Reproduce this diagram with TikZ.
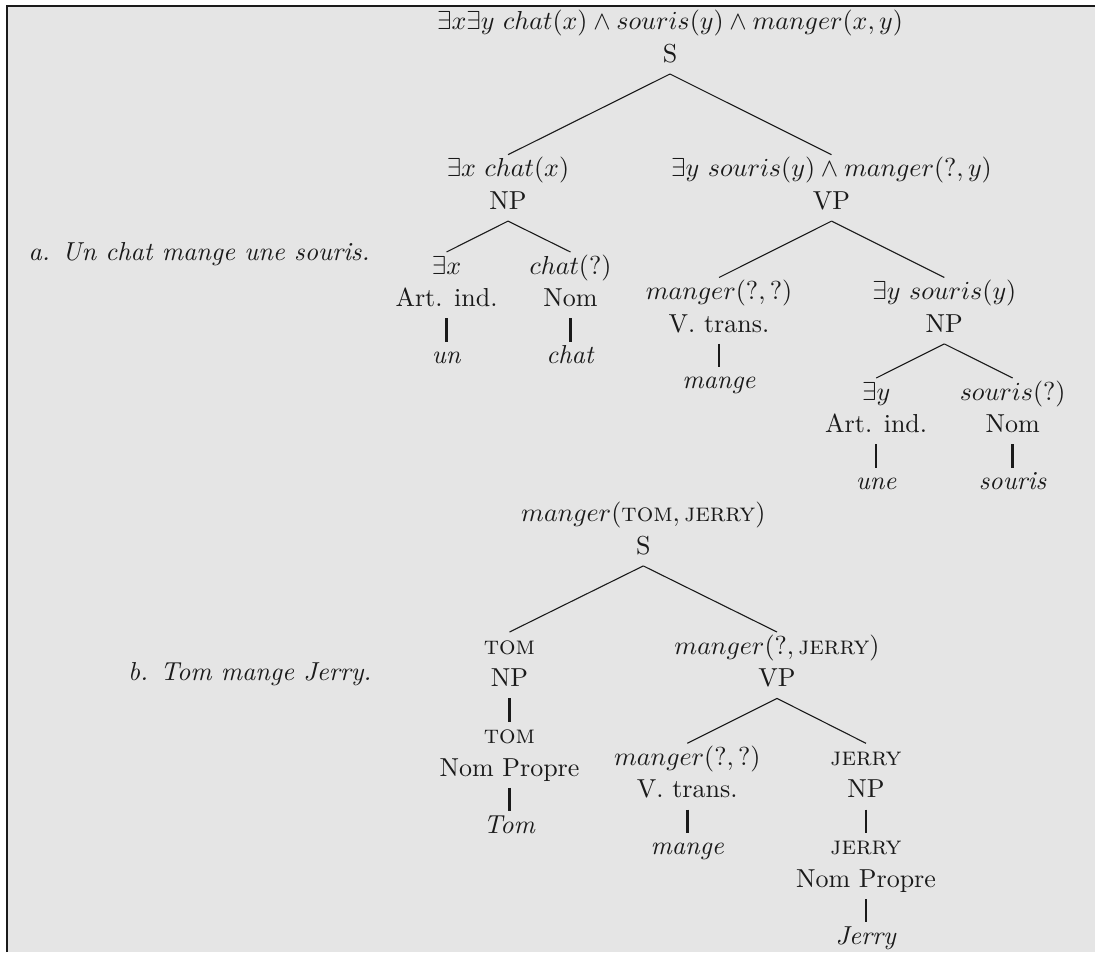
\documentclass[tikz,border=0pt]{standalone}
\definecolor{bggray}{HTML}{E5E5E5}
\definecolor{ink}{HTML}{1A1A1A}
\newcommand{\tS}{\rule{0pt}{8.46pt}}
\newcommand{\bS}{\rule[-4.54pt]{0pt}{4.54pt}}
\tikzset{
  tn/.style={inner sep=0pt, outer sep=0pt, align=center, anchor=north, text=ink,
             font=\fontsize{10}{12.54}\selectfont},
  lbl/.style={inner sep=0pt, anchor=base west, text=ink, font=\fontsize{10}{12.54}\selectfont\itshape},
  edge/.style={draw=ink, line width=0.42pt},
  bar/.style={draw=ink, line width=0.95pt},
}
\begin{document}
\begin{tikzpicture}[x=0.3846pt, y=-0.3846pt]
\useasboundingbox (0,0) rectangle (1095,952);
\fill[bggray] (7,6) rectangle (1095,952);
\draw[ink, line width=0.5pt] (7,952) -- (7,6) -- (1095,6);

% ---------- tree a ----------
\node[lbl] (labA) at (28,260) {a. Un chat mange une souris.};

\node[tn] (rootA) at (670,7.6) {\tS$\exists x\exists y\ chat(x)\wedge souris(y)\wedge manger(x,y)$\\S\bS};
\node[tn] (npA)   at (508,154.7) {\tS$\exists x\ chat(x)$\\NP\bS};
\node[tn] (vpA)   at (831.5,154.7) {\tS$\exists y\ souris(y)\wedge manger(?,y)$\\VP\bS};
\node[tn] (artA)  at (446.5,252) {\tS$\exists x$\\Art. ind.\bS};
\node[tn] (nomA)  at (570.5,252) {\tS$chat(?)$\\Nom\bS};
\node[tn] (unA)   at (446.5,341.5) {\tS\textit{un}};
\node[tn] (chatA) at (570.5,341.5) {\tS\textit{chat}};
\node[tn] (vtA)   at (719,277.5) {\tS$manger(?,?)$\\V. trans.\bS};
\node[tn] (np2A)  at (944.3,277.5) {\tS$\exists y\ souris(y)$\\NP\bS};
\node[tn] (mangeA) at (719,366.5) {\tS\textit{mange}};
\node[tn] (art2A) at (876.2,378) {\tS$\exists y$\\Art. ind.\bS};
\node[tn] (nom2A) at (1012.7,378) {\tS$souris(?)$\\Nom\bS};
\node[tn] (uneA)  at (876.2,467.5) {\tS\textit{une}};
\node[tn] (sourisA) at (1012.7,467.5) {\tS\textit{souris}};

\draw[edge] (rootA.south) -- (npA.north);
\draw[edge] (rootA.south) -- (vpA.north);
\draw[edge] (npA.south) -- (artA.north);
\draw[edge] (npA.south) -- (nomA.north);
\draw[edge] (vpA.south) -- (vtA.north);
\draw[edge] (vpA.south) -- (np2A.north);
\draw[edge] (np2A.south) -- (art2A.north);
\draw[edge] (np2A.south) -- (nom2A.north);
\draw[bar] (artA.south) -- (unA.north);
\draw[bar] (nomA.south) -- (chatA.north);
\draw[bar] (vtA.south) -- (mangeA.north);
\draw[bar] (art2A.south) -- (uneA.north);
\draw[bar] (nom2A.south) -- (sourisA.north);

% ---------- tree b ----------
\node[lbl, anchor=base east] (labB) at (372,680) {b. Tom mange Jerry.};

\node[tn] (rootB)  at (643.3,499.5) {\tS$manger(\textsc{tom},\textsc{jerry})$\\S\bS};
\node[tn] (npB)    at (509.5,632) {\tS\textsc{tom}\\NP\bS};
\node[tn] (vpB)    at (777,632) {\tS$manger(?,\textsc{jerry})$\\VP\bS};
\node[tn] (npropB) at (509.5,721.5) {\tS\textsc{tom}\\Nom Propre\bS};
\node[tn] (tomB)   at (509.5,811) {\tS\textit{Tom}};
\node[tn] (vtB)    at (687.3,743.3) {\tS$manger(?,?)$\\V. trans.\bS};
\node[tn] (np2B)   at (866,743.3) {\tS\textsc{jerry}\\NP\bS};
\node[tn] (mangeB) at (687.3,832.7) {\tS\textit{mange}};
\node[tn] (nprop2B) at (866,832.7) {\tS\textsc{jerry}\\Nom Propre\bS};
\node[tn] (jerryB) at (866,922.2) {\tS\textit{Jerry}};

\draw[edge] (rootB.south) -- (npB.north);
\draw[edge] (rootB.south) -- (vpB.north);
\draw[edge] (vpB.south) -- (vtB.north);
\draw[edge] (vpB.south) -- (np2B.north);
\draw[bar] (npB.south) -- (npropB.north);
\draw[bar] (npropB.south) -- (tomB.north);
\draw[bar] (vtB.south) -- (mangeB.north);
\draw[bar] (np2B.south) -- (nprop2B.north);
\draw[bar] (nprop2B.south) -- (jerryB.north);
\end{tikzpicture}
\end{document}
